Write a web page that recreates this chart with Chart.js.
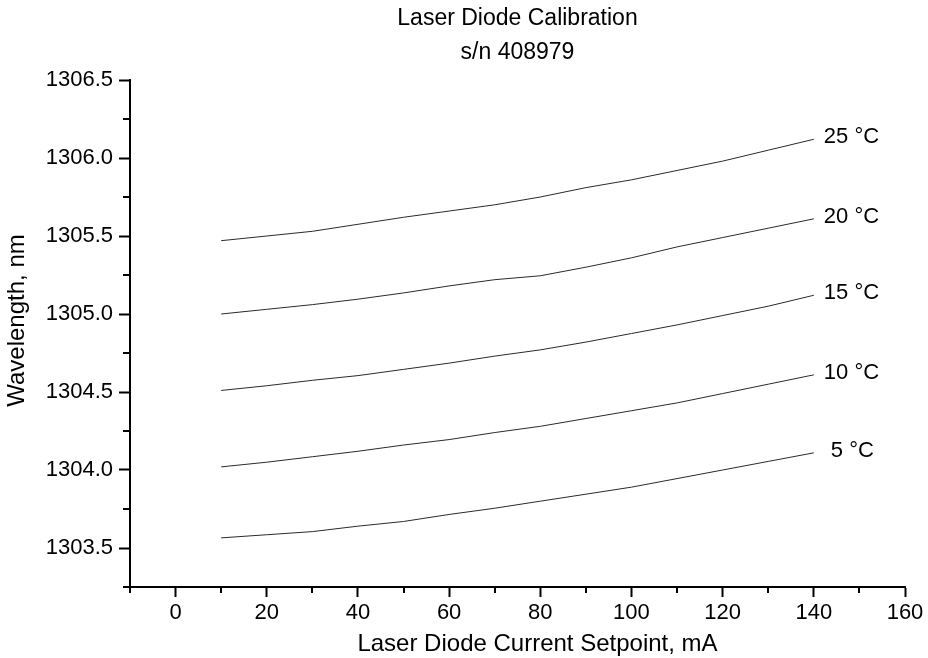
<!DOCTYPE html>
<html>
<head>
<meta charset="utf-8">
<title>Laser Diode Calibration</title>
<script src="https://cdn.jsdelivr.net/npm/chart.js@4.4.1/dist/chart.umd.min.js"></script>
<style>
  html, body { margin: 0; padding: 0; background: #fff; }
  canvas { display: block; }
</style>
</head>
<body>
<canvas id="chart" width="928" height="658"></canvas>
<script>
// Wavelength vs. current setpoint, one curve per case temperature
const currents = [10, 20, 30, 40, 50, 60, 70, 80, 90, 100, 110, 120, 130, 140];

const tempLabels = ['5 °C', '10 °C', '15 °C', '20 °C', '25 °C'];

const wl5  = [1303.565, 1303.585, 1303.605, 1303.64, 1303.67, 1303.715, 1303.755, 1303.80, 1303.845, 1303.89, 1303.945, 1304.00, 1304.055, 1304.11];
const wl10 = [1304.02, 1304.05, 1304.085, 1304.12, 1304.16, 1304.195, 1304.24, 1304.28, 1304.33, 1304.38, 1304.43, 1304.49, 1304.55, 1304.61];
const wl15 = [1304.51, 1304.54, 1304.575, 1304.605, 1304.645, 1304.685, 1304.73, 1304.77, 1304.82, 1304.875, 1304.93, 1304.99, 1305.05, 1305.12];
const wl20 = [1305.00, 1305.03, 1305.06, 1305.095, 1305.135, 1305.18, 1305.22, 1305.245, 1305.30, 1305.36, 1305.43, 1305.49, 1305.55, 1305.61];
const wl25 = [1305.47, 1305.50, 1305.53, 1305.575, 1305.62, 1305.66, 1305.70, 1305.75, 1305.81, 1305.86, 1305.92, 1305.98, 1306.05, 1306.12];

const titleLines = ['Laser Diode Calibration', 's/n 408979'];
const xTitle = 'Laser Diode Current Setpoint, mA';
const yTitle = 'Wavelength, nm';

const FONT = "'Liberation Sans', Arial, sans-serif";
Chart.defaults.font.family = FONT;
Chart.defaults.color = '#000';

const isMajorX = v => v % 20 === 0;
const isMajorY = v => Math.abs(v * 2 - Math.round(v * 2)) < 1e-6;

// short minor tick marks (Chart.js has one tick length per axis)
const minorTicks = {
  id: 'minorTicks',
  afterDraw(chart) {
    const { ctx } = chart;
    const xs = chart.scales.x, ys = chart.scales.y;
    ctx.save();
    ctx.strokeStyle = '#000';
    ctx.lineWidth = 2;
    ctx.beginPath();
    xs.ticks.forEach(t => {
      if (isMajorX(t.value)) return;
      const px = Math.round(xs.getPixelForValue(t.value));
      ctx.moveTo(px, xs.top);
      ctx.lineTo(px, xs.top + 6);
    });
    ys.ticks.forEach(t => {
      if (isMajorY(t.value)) return;
      const py = Math.round(ys.getPixelForValue(t.value));
      ctx.moveTo(ys.right, py);
      ctx.lineTo(ys.right - 7, py);
    });
    ctx.stroke();
    ctx.restore();
  }
};

// temperature label at the right end of each curve
const curveLabels = {
  id: 'curveLabels',
  afterDatasetsDraw(chart) {
    const { ctx } = chart;
    ctx.save();
    ctx.font = '22px ' + FONT;
    ctx.fillStyle = '#000';
    ctx.textAlign = 'left';
    ctx.textBaseline = 'middle';
    chart.data.datasets.forEach((ds, i) => {
      const pts = chart.getDatasetMeta(i).data;
      const last = pts[pts.length - 1];
      const shift = ds.label.length < 5 ? 7 : 0;
      ctx.fillText(ds.label, last.x + 10 + shift, last.y - 2);
    });
    ctx.restore();
  }
};

// plot title and axis titles, placed as in the original figure
const titles = {
  id: 'titles',
  afterDraw(chart) {
    const { ctx, chartArea } = chart;
    const cx = (chartArea.left + chartArea.right) / 2;
    const cy = (chartArea.top + chartArea.bottom) / 2;
    ctx.save();
    ctx.fillStyle = '#000';
    ctx.textAlign = 'center';
    ctx.textBaseline = 'middle';
    ctx.font = '23px ' + FONT;
    ctx.fillText(titleLines[0], cx, chartArea.top - 61);
    ctx.fillText(titleLines[1], cx, chartArea.top - 27);
    ctx.font = '24px ' + FONT;
    ctx.fillText(xTitle, cx + 20, chartArea.bottom + 57);
    ctx.translate(chartArea.left - 113, cy - 13);
    ctx.rotate(-Math.PI / 2);
    ctx.fillText(yTitle, 0, 0);
    ctx.restore();
  }
};

const series = [wl5, wl10, wl15, wl20, wl25];

new Chart(document.getElementById('chart'), {
  type: 'line',
  data: {
    datasets: series.map((vals, i) => ({
      label: tempLabels[i],
      data: currents.map((c, j) => ({ x: c, y: vals[j] })),
      borderColor: '#2a2a2a',
      borderWidth: 1,
      pointRadius: 0,
      tension: 0,
      fill: false
    }))
  },
  options: {
    responsive: false,
    animation: false,
    layout: { padding: { top: 80, right: 23, left: 0, bottom: 0 } },
    plugins: {
      legend: { display: false },
      tooltip: { enabled: false },
      title: { display: false }
    },
    scales: {
      x: {
        type: 'linear',
        min: -10,
        max: 160,
        afterFit(scale) { scale.height = 71; },
        border: { display: true, color: '#000', width: 2 },
        grid: {
          drawOnChartArea: false,
          drawTicks: true,
          tickLength: 10,
          tickWidth: 2,
          tickColor: ctx => isMajorX(ctx.tick.value) ? '#000' : 'rgba(0,0,0,0)'
        },
        ticks: {
          stepSize: 10,
          autoSkip: false,
          maxRotation: 0,
          padding: 3,
          font: { size: 22 },
          callback: v => isMajorX(v) ? String(v) : ''
        },
        title: { display: false }
      },
      y: {
        type: 'linear',
        min: 1303.25,
        max: 1306.5,
        afterFit(scale) { scale.width = 130; },
        border: { display: true, color: '#000', width: 2 },
        grid: {
          drawOnChartArea: false,
          drawTicks: true,
          tickLength: 11,
          tickWidth: 2,
          tickColor: ctx => isMajorY(ctx.tick.value) ? '#000' : 'rgba(0,0,0,0)'
        },
        ticks: {
          stepSize: 0.25,
          autoSkip: false,
          padding: 6,
          font: { size: 22 },
          callback: v => isMajorY(v) ? v.toFixed(1) : ''
        },
        title: { display: false }
      }
    }
  },
  plugins: [minorTicks, curveLabels, titles]
});
</script>
</body>
</html>
